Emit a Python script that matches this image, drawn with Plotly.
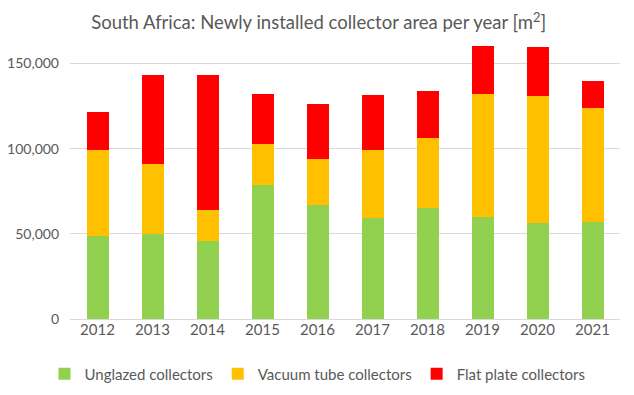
import plotly.graph_objects as go

years = ["2012", "2013", "2014", "2015", "2016", "2017", "2018", "2019", "2020", "2021"]
unglazed = [48900, 50070, 45770, 78630, 66900, 59270, 65130, 59850, 56330, 56920]
vacuum_tube = [50270, 40880, 18190, 24060, 26990, 39900, 41080, 72180, 74530, 66890]
flat_plate = [22300, 52230, 79220, 29340, 32270, 32270, 27580, 28170, 28750, 15850]
y_ticks = [0, 50000, 100000, 150000]
y_tick_labels = ["0", "50,000", "100,000", "150,000"]

FONT = "Lato, Liberation Sans, Arial, sans-serif"
TXT = "#595959"

fig = go.Figure()
for name, vals, col in [
    ("Unglazed collectors", unglazed, "#92D050"),
    ("Vacuum tube collectors", vacuum_tube, "#FFC000"),
    ("Flat plate collectors", flat_plate, "#FF0000"),
]:
    fig.add_trace(go.Bar(x=years, y=vals, name=name, marker=dict(color=col, line=dict(width=0))))

fig.update_layout(
    barmode="stack",
    bargap=0.6,
    width=634, height=395,
    margin=dict(l=62, r=22, t=30, b=84, autoexpand=False),
    paper_bgcolor="white", plot_bgcolor="white",
    font=dict(family=FONT, color=TXT, size=15),
    title=dict(text="South Africa: Newly installed collector area per year [m<sup>2</sup>]",
               x=0.49, xanchor="center", y=0.962, yanchor="middle",
               font=dict(family=FONT, size=18.5, color=TXT)),
    legend=dict(orientation="h", x=0.45, xanchor="center",
                y=-0.196, yanchor="middle", font=dict(size=15, color=TXT),
                itemwidth=30, traceorder="normal"),
    xaxis=dict(showgrid=False, showline=False, ticks="", tickangle=0, tickfont=dict(size=15)),
    yaxis=dict(range=[0, 165000], tickvals=y_ticks, ticktext=y_tick_labels,
               showgrid=True, gridcolor="#D9D9D9", gridwidth=1, zeroline=True,
               zerolinecolor="#D9D9D9", zerolinewidth=1, showline=False, ticks="",
               ticklabelstandoff=10, tickfont=dict(size=14)),
)

fig.write_html("out.html")
